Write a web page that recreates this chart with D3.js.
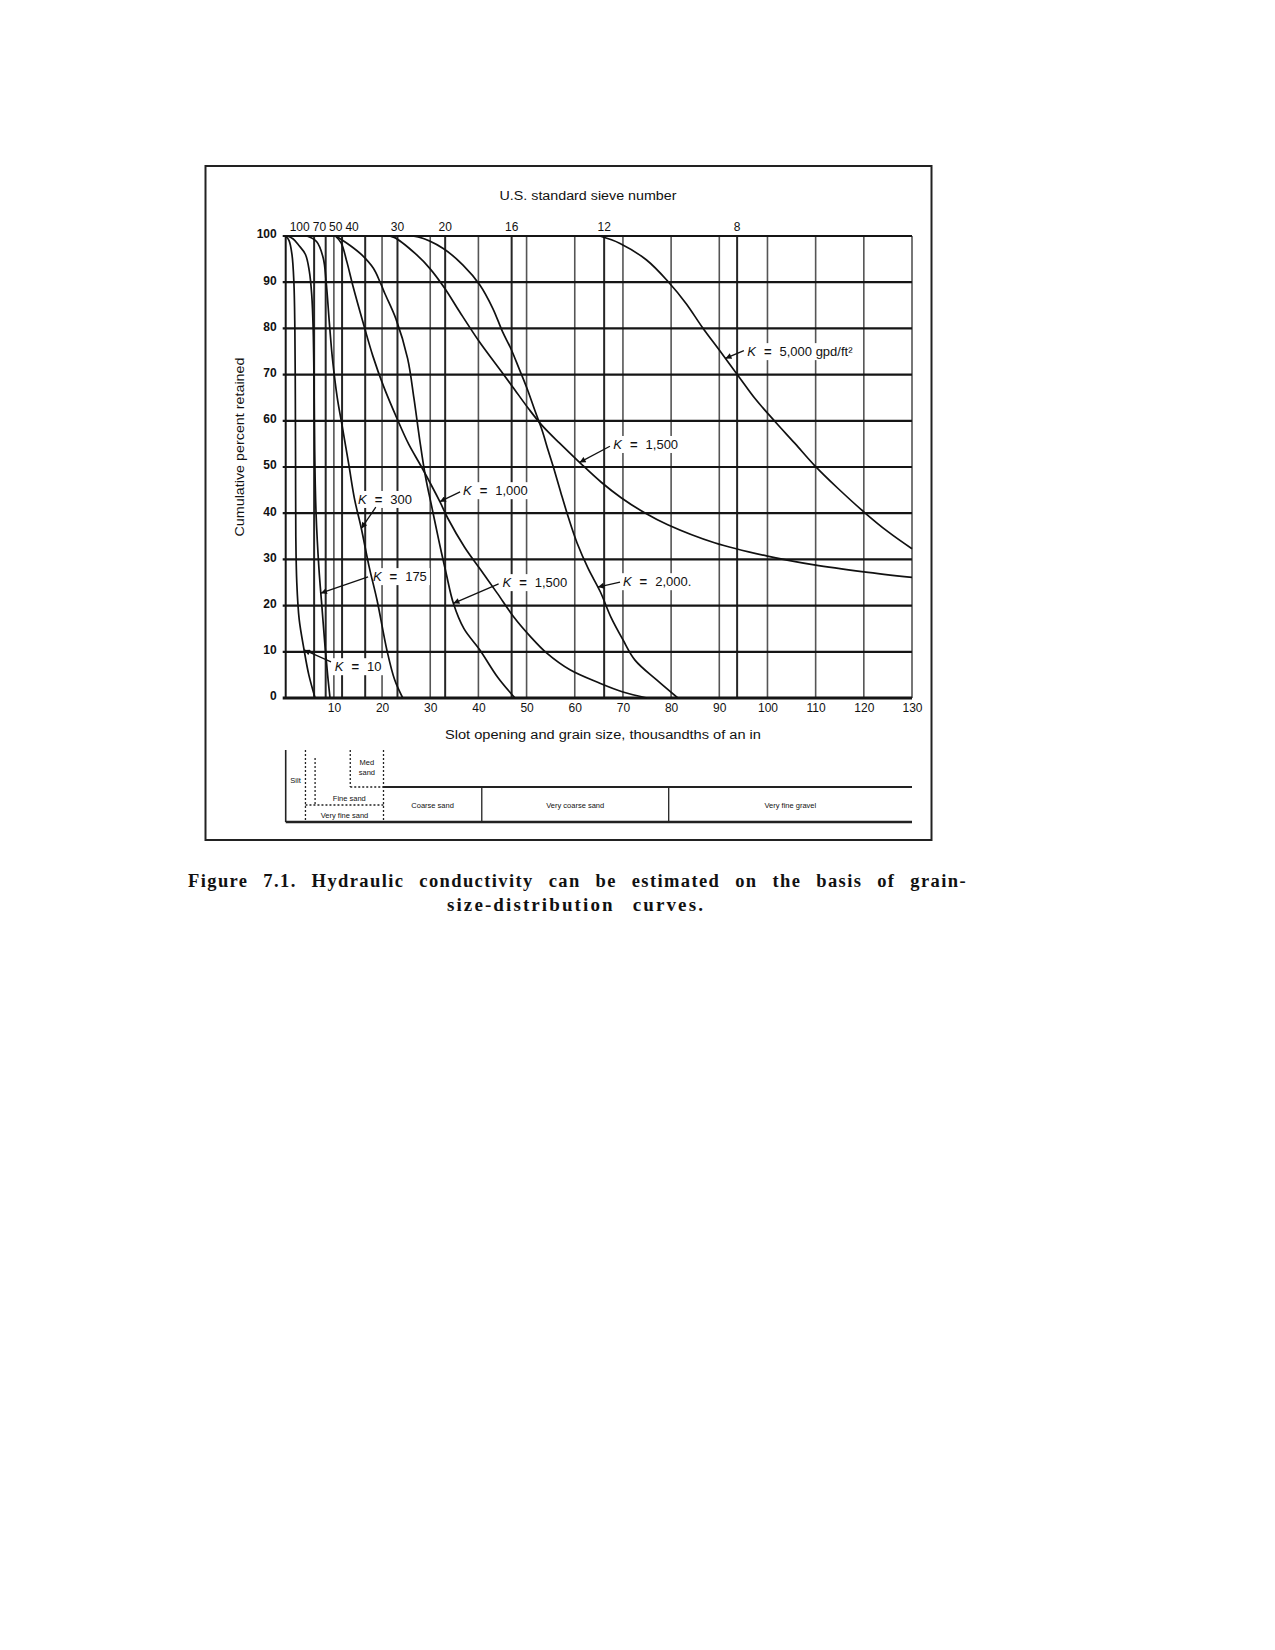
<!DOCTYPE html>
<html>
<head>
<meta charset="utf-8">
<script src="https://cdnjs.cloudflare.com/ajax/libs/d3/7.8.5/d3.min.js"></script>
<style>
  html, body { margin: 0; padding: 0; background: #fff; }
  svg { display: block; }
  .sans { font-family: "Liberation Sans", Arial, Helvetica, sans-serif; }
  .serif { font-family: "Liberation Serif", "Times New Roman", serif; }
</style>
</head>
<body>
<div id="chart"></div>
<script>

// grain size (thousandths of an inch) vs cumulative percent retained
var k10 = [[0,100],[0.7,99],[1.3,96],[1.7,90],[1.9,80],[2.0,65],[2.05,50],[2.1,35],[2.3,25],[2.8,17],[3.8,10.5],[4.8,5],[6.1,0]];
var k175 = [[0.3,100],[1.5,99.4],[2.7,98],[4.1,96],[4.9,92.4],[5.4,87.3],[5.7,80],[5.9,66],[6.0,54],[6.3,40],[6.9,28],[7.5,20],[8.1,12],[8.7,5],[9.2,0]];
var k300 = [[4.4,100],[6.4,98.8],[7.8,95.2],[8.4,90],[9.1,80.7],[9.7,73.5],[10.7,65],[11.7,59],[13.1,50.5],[14.3,43],[15.7,36.7],[17.3,28.5],[19,21],[21,10.4],[22.6,4],[24.3,0]];
var k1000 = [[10.3,100],[11.5,98.5],[12.7,94.4],[13.9,89.4],[16,81.5],[18.1,74],[20.3,67.5],[23.1,60.5],[25.5,55],[28.2,50],[32,42.5],[33.7,38.8],[37.1,32.7],[40.5,27.7],[43.9,22.7],[47.3,17.6],[50.8,13.3],[54.2,9.7],[59,6.1],[65.2,3.2],[70,1.3],[75,0]];
var k1500Fine = [[10.4,100],[13.3,98],[15.8,95.9],[18.2,93],[19.6,90],[20.6,87.5],[22.9,82],[25.3,73.5],[26.6,65],[27.8,56],[29,48],[30.4,41],[31.8,34],[33.3,27],[34.8,20.5],[37,15],[40.3,10.4],[44,4.5],[47.6,0]];
var k2000 = [[25,100],[27.5,99.8],[32.7,97.3],[36.8,93.7],[40.3,89.4],[43,84.3],[45,79.3],[46.7,75.7],[48.4,71.4],[50.1,67],[51.8,62],[53.2,58],[54.5,53.5],[55.7,49.5],[57.1,44.5],[58.7,39],[60.5,33.5],[62.8,28],[65.3,23],[67.5,17.5],[70,12.6],[72.5,8.2],[77,3.9],[81.4,0]];
var k1500Coarse = [[20.5,100],[22.5,99.7],[27.2,95.9],[29.9,93],[33,88.7],[36.1,83.6],[40.2,77.1],[43.6,72.3],[47,67.5],[50.5,62.5],[53.2,59],[56.8,55.2],[61.2,50.8],[65.5,46.7],[69.7,43.3],[74.5,40.1],[79.3,37.5],[89,33.6],[100,30.7],[109.7,28.8],[120,27.3],[130,26.1]];
var k5000 = [[65.2,100],[69.4,98.4],[74.9,94.8],[79.4,90.1],[83.1,85.4],[86.5,80.2],[90,75.3],[94.1,69.5],[97.5,64.7],[101.6,59.8],[105.7,55.1],[109.8,50.3],[114.6,45.4],[120.1,40.2],[125,36],[130,32.3]];

var yTicks = [0,10,20,30,40,50,60,70,80,90,100];
var xTicks = [10,20,30,40,50,60,70,80,90,100,110,120,130];

var sieveNumbers = [100,70,50,40,30,20,16,12,8];
var sieveOpenings = [5.9,8.3,11.7,16.5,23.2,33.1,46.9,66.1,93.7];

var soilNames = ["Silt","Very fine sand","Fine sand","Med sand","Coarse sand","Very coarse sand","Very fine gravel"];
var soilFrom = [0,4.1,6.1,13.4,20.3,40.7,79.5];
var soilTo = [4.1,20.3,20.3,20.3,40.7,79.5,130];

var curveNames = ["k10","k175","k300","k1000","k1500Fine","k2000","k1500Coarse","k5000"];
var curveData = [k10,k175,k300,k1000,k1500Fine,k2000,k1500Coarse,k5000];
var curveK = ["10","175","300","1,000","1,500","2,000.","1,500","5,000 gpd/ft\u00b2"];


GrainChart = function(container){

    this.container = container;
    this.full_width = 1275;
    this.full_height = 1650;

    this.x = d3.scaleLinear().domain([0, 130]).range([285.7, 912]);
    this.y = d3.scaleLinear().domain([0, 100]).range([698, 236]);

    this._init();
};

GrainChart.prototype._init = function(){

    this._build_graph();
    this._draw_frame();
    this._draw_grid();
    this._draw_axes();
    this._draw_sieve_labels();
    this._draw_curves();
    this._draw_curve_labels();
    this._draw_soil_bar();
    this._draw_caption();

};

GrainChart.prototype._build_graph = function(){

    this._svg = d3.select(this.container)
        .append("svg")
        .attr("width", this.full_width)
        .attr("height", this.full_height)
        .attr("viewBox", "0 0 " + this.full_width + " " + this.full_height);

    this._svg.append("rect")
        .attr("width", this.full_width)
        .attr("height", this.full_height)
        .attr("fill", "#fff");

    this._svg.append("defs")
        .append("marker")
        .attr("id", "arrow")
        .attr("viewBox", "0 0 10 10")
        .attr("refX", 10)
        .attr("refY", 5)
        .attr("markerUnits", "userSpaceOnUse")
        .attr("markerWidth", 8)
        .attr("markerHeight", 6)
        .attr("orient", "auto")
        .append("path")
        .attr("d", "M0,0 L10,5 L0,10 z")
        .attr("fill", "#111");

    this._grid = this._svg.append("g");
    this._boxes = this._svg.append("g");
    this._lines = this._svg.append("g");
    this._labels = this._svg.append("g").attr("class", "sans");
};

GrainChart.prototype._draw_frame = function(){

    this._svg.append("rect")
        .attr("x", 205.5)
        .attr("y", 166)
        .attr("width", 726)
        .attr("height", 674)
        .attr("fill", "none")
        .attr("stroke", "#222")
        .attr("stroke-width", 2);

};

GrainChart.prototype._draw_grid = function(){

    var x = this.x, y = this.y;

    // decade lines are a little lighter than the sieve lines
    this._grid.selectAll("line.decade")
        .data(xTicks)
        .enter()
        .append("line")
        .attr("class", "decade")
        .attr("x1", function(d){ return x(d); })
        .attr("x2", function(d){ return x(d); })
        .attr("y1", y(100))
        .attr("y2", y(0))
        .attr("stroke", "#555")
        .attr("stroke-width", 1.6);

    this._grid.selectAll("line.sieve")
        .data(sieveOpenings)
        .enter()
        .append("line")
        .attr("class", "sieve")
        .attr("x1", function(d){ return x(d); })
        .attr("x2", function(d){ return x(d); })
        .attr("y1", y(100))
        .attr("y2", y(0))
        .attr("stroke", "#262626")
        .attr("stroke-width", 2);

    this._grid.selectAll("line.pct")
        .data(yTicks)
        .enter()
        .append("line")
        .attr("class", "pct")
        .attr("x1", x(0) - 3)
        .attr("x2", x(130))
        .attr("y1", function(d){ return y(d); })
        .attr("y2", function(d){ return y(d); })
        .attr("stroke", "#151515")
        .attr("stroke-width", function(d){ return d === 0 ? 2.8 : 2.2; });

    this._grid.append("line")
        .attr("x1", x(0))
        .attr("x2", x(0))
        .attr("y1", y(100))
        .attr("y2", y(0))
        .attr("stroke", "#151515")
        .attr("stroke-width", 2);

};

GrainChart.prototype._draw_axes = function(){

    var x = this.x, y = this.y;

    var yAxis = this._svg.append("g")
        .attr("transform", "translate(" + x(0) + ",0)")
        .call(d3.axisLeft(y).tickValues(yTicks).tickSize(0).tickPadding(9).tickFormat(d3.format("d")));
    yAxis.select(".domain").remove();
    yAxis.selectAll("text")
        .attr("font-size", 12)
        .attr("font-weight", "bold")
        .attr("fill", "#111")
        .attr("y", -2)
        .attr("font-family", "Liberation Sans, Arial, sans-serif");

    var xAxis = this._svg.append("g")
        .attr("transform", "translate(0," + y(0) + ")")
        .call(d3.axisBottom(x).tickValues(xTicks).tickSize(0).tickPadding(5).tickFormat(d3.format("d")));
    xAxis.select(".domain").remove();
    xAxis.selectAll("text")
        .attr("font-size", 12)
        .attr("fill", "#111")
        .attr("font-family", "Liberation Sans, Arial, sans-serif");

    this._svg.append("text")
        .attr("class", "sans")
        .attr("x", 603)
        .attr("y", 739)
        .attr("text-anchor", "middle")
        .attr("font-size", 12)
        .attr("textLength", 316)
        .attr("lengthAdjust", "spacingAndGlyphs")
        .attr("fill", "#111")
        .text("Slot opening and grain size, thousandths of an in");

    this._svg.append("text")
        .attr("class", "sans")
        .attr("transform", "translate(244,447) rotate(-90)")
        .attr("text-anchor", "middle")
        .attr("font-size", 12)
        .attr("textLength", 179)
        .attr("lengthAdjust", "spacingAndGlyphs")
        .attr("fill", "#111")
        .text("Cumulative percent retained");

    this._svg.append("text")
        .attr("class", "sans")
        .attr("x", 588)
        .attr("y", 200)
        .attr("text-anchor", "middle")
        .attr("font-size", 12)
        .attr("textLength", 177)
        .attr("lengthAdjust", "spacingAndGlyphs")
        .attr("fill", "#111")
        .text("U.S. standard sieve number");

};

GrainChart.prototype._draw_sieve_labels = function(){

    var x = this.x, y = this.y;
    var g = this._svg.append("g").attr("class", "sans");

    // the fine sieves are too close together, so their numbers are packed from the axis
    var cursor = x(0) + 4;
    sieveNumbers.forEach(function(num, i){
        var t = g.append("text")
            .attr("y", y(100) - 5)
            .attr("font-size", 12)
            .attr("fill", "#111")
            .text(num);
        var w = t.node().getComputedTextLength();
        if(sieveOpenings[i] < 20){
            t.attr("x", cursor);
            cursor += w + 3;
        } else {
            t.attr("x", x(sieveOpenings[i]) - w / 2);
        }
    });

};

GrainChart.prototype._draw_curves = function(){

    var x = this.x, y = this.y;

    var line = d3.line()
        .x(function(d){ return x(d[0]); })
        .y(function(d){ return y(d[1]); })
        .curve(d3.curveCatmullRom.alpha(0.5));

    this._lines.selectAll("path.curve")
        .data(curveData)
        .enter()
        .append("path")
        .attr("class", function(d, i){ return "curve " + curveNames[i]; })
        .attr("d", line)
        .attr("fill", "none")
        .attr("stroke", "#111")
        .attr("stroke-width", 1.7);

};

var xAtY = function(series, yv){
    for(var i = 0; i < series.length - 1; i++){
        var a = series[i], b = series[i + 1];
        if((a[1] - yv) * (b[1] - yv) <= 0 && a[1] !== b[1]){
            return a[0] + (yv - a[1]) * (b[0] - a[0]) / (b[1] - a[1]);
        }
    }
    return series[series.length - 1][0];
};

GrainChart.prototype._draw_curve_labels = function(){

    var self = this;
    var x = this.x, y = this.y;

    // label text start, arrow tail (data units) and the height where the arrow meets its curve
    var notes = [
        {curve: 7, tx: 95.8, ty: 74.0, ax: 95.1, ay: 75.2, hit: 73.5},
        {curve: 6, tx: 68.0, ty: 53.9, ax: 67.3, ay: 54.5, hit: 51.0},
        {curve: 3, tx: 36.8, ty: 43.9, ax: 36.2, ay: 44.6, hit: 42.5},
        {curve: 2, tx: 15.0, ty: 42.0, ax: 18.7, ay: 41.3, hit: 36.7},
        {curve: 1, tx: 18.1, ty: 25.3, ax: 17.1, ay: 26.2, hit: 22.7},
        {curve: 4, tx: 45.0, ty: 24.0, ax: 44.2, ay: 24.7, hit: 20.5},
        {curve: 5, tx: 70.0, ty: 24.2, ax: 69.4, ay: 25.1, hit: 24.0},
        {curve: 0, tx: 10.2, ty: 5.8, ax: 9.4, ay: 7.8, hit: 10.4}
    ];

    notes.forEach(function(n){

        var t = self._labels.append("text")
            .attr("x", x(n.tx))
            .attr("y", y(n.ty))
            .attr("font-size", 13)
            .attr("fill", "#111");
        t.append("tspan").attr("font-style", "italic").text("K");
        t.append("tspan").attr("dx", 8).attr("font-weight", "bold").text("=");
        t.append("tspan").attr("dx", 8).text(curveK[n.curve]);

        var bb = t.node().getBBox();
        self._boxes.append("rect")
            .attr("x", bb.x - 3)
            .attr("y", bb.y - 1)
            .attr("width", bb.width + 6)
            .attr("height", bb.height + 2)
            .attr("fill", "#fff");

        var hx = xAtY(curveData[n.curve], n.hit);
        self._labels.append("line")
            .attr("x1", x(n.ax))
            .attr("y1", y(n.ay))
            .attr("x2", x(hx))
            .attr("y2", y(n.hit))
            .attr("stroke", "#111")
            .attr("stroke-width", 1.3)
            .attr("marker-end", "url(#arrow)");
    });

};

GrainChart.prototype._draw_soil_bar = function(){

    var x = this.x;
    var g = this._svg.append("g").attr("class", "sans");

    var top = 750, mid = 787, low = 805, bot = 822;
    var dotted = "2,2";

    var seg = function(x1, y1, x2, y2, dash, w){
        g.append("line")
            .attr("x1", x1).attr("y1", y1)
            .attr("x2", x2).attr("y2", y2)
            .attr("stroke", "#222")
            .attr("stroke-width", w || 1.3)
            .attr("stroke-dasharray", dash || null);
    };

    seg(x(0), top, x(0), bot, null, 1.6);
    seg(x(soilTo[0]), top, x(soilTo[0]), bot, dotted);
    seg(x(soilFrom[1]), low, x(soilTo[1]), low, dotted);
    seg(x(soilFrom[2]), top + 8, x(soilFrom[2]), low, dotted);
    seg(x(soilFrom[3]), top, x(soilFrom[3]), mid, dotted);
    seg(x(soilFrom[3]), mid, x(soilTo[3]), mid, dotted);
    seg(x(soilTo[3]), top, x(soilTo[3]), bot, dotted);

    seg(x(soilFrom[4]), mid, x(130), mid, null, 1.8);
    seg(x(soilFrom[5]), mid, x(soilFrom[5]), bot, null, 1.3);
    seg(x(soilFrom[6]), mid, x(soilFrom[6]), bot, null, 1.3);
    seg(x(0), bot, x(130), bot, null, 2.4);

    var rowY = [783, 818, 801, 0, 808, 808, 808];

    soilNames.forEach(function(name, i){
        var cx = (x(soilFrom[i]) + x(soilTo[i])) / 2;
        if(name === "Med sand"){
            g.append("text").attr("x", cx).attr("y", 765).attr("text-anchor", "middle")
                .attr("font-size", 7.5).attr("fill", "#111").text("Med");
            g.append("text").attr("x", cx).attr("y", 775).attr("text-anchor", "middle")
                .attr("font-size", 7.5).attr("fill", "#111").text("sand");
        } else {
            g.append("text")
                .attr("x", cx)
                .attr("y", rowY[i])
                .attr("text-anchor", "middle")
                .attr("font-size", 7.5)
                .attr("fill", "#111")
                .text(name);
        }
    });

};

GrainChart.prototype._draw_caption = function(){

    var g = this._svg.append("g").attr("class", "serif");

    // justified lines: spread the leftover width over the word gaps
    var justify = function(t, target){
        var gaps = t.text().split(" ").length - 1;
        var w = t.node().getComputedTextLength();
        t.attr("word-spacing", Math.max(0, (target - w) / gaps));
    };

    var line1 = g.append("text")
        .attr("x", 188)
        .attr("y", 887)
        .attr("font-size", 18.5)
        .attr("font-weight", "bold")
        .attr("letter-spacing", 1.4)
        .attr("fill", "#111")
        .text("Figure 7.1. Hydraulic conductivity can be estimated on the basis of grain-");
    justify(line1, 779);

    var line2 = g.append("text")
        .attr("x", 447)
        .attr("y", 911)
        .attr("font-size", 19)
        .attr("font-weight", "bold")
        .attr("letter-spacing", 2.1)
        .attr("fill", "#111")
        .attr("xml:space", "preserve")
        .text("size-distribution  curves.");
    justify(line2, 258);

};

new GrainChart("#chart");

</script>
</body>
</html>
